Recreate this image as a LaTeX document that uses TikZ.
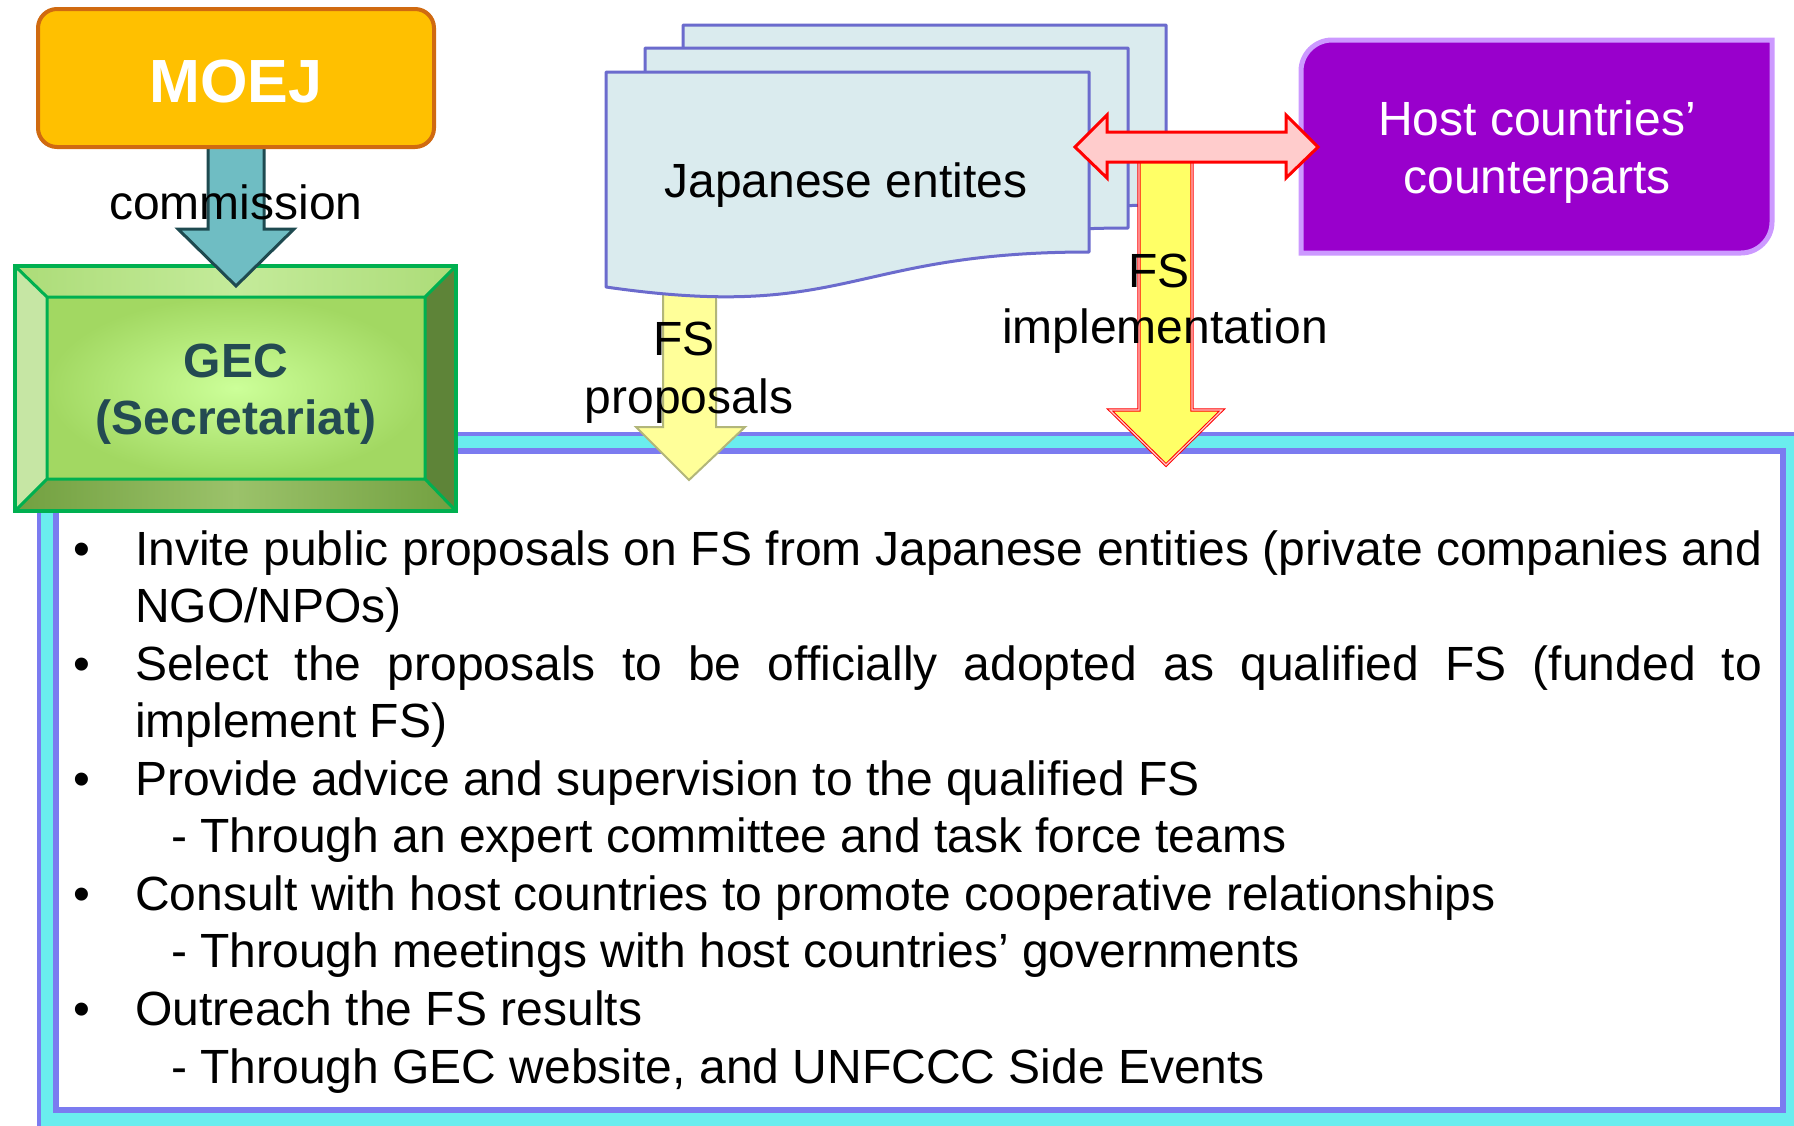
\documentclass[tikz,border=0pt]{standalone}
\usepackage{fontspec}
\setmainfont{Liberation Sans}
\definecolor{framepurple}{HTML}{7B7BF0}
\definecolor{framecyan}{HTML}{6AEDEE}
\definecolor{docfill}{HTML}{DAEBEE}
\definecolor{docdraw}{HTML}{6B6BCD}
\definecolor{implfill}{HTML}{FFFF66}
\definecolor{impldouble}{HTML}{FFD0D0}
\definecolor{propfill}{HTML}{FFFF99}
\definecolor{propdraw}{HTML}{B2B67A}
\definecolor{redfill}{HTML}{FFCCCC}
\definecolor{hostfill}{HTML}{9900CC}
\definecolor{hostdraw}{HTML}{CC99FF}
\definecolor{moejfill}{HTML}{FFC000}
\definecolor{moejdraw}{HTML}{D06A10}
\definecolor{commfill}{HTML}{6FBDC3}
\definecolor{commdraw}{HTML}{1E4A50}
\definecolor{gecgreen}{HTML}{00B050}
\definecolor{gecin}{HTML}{CCFF99}
\definecolor{gecout}{HTML}{A2D862}
\definecolor{bevtopmid}{HTML}{C4EB9A}
\definecolor{bevtopend}{HTML}{ACDC78}
\definecolor{bevleft}{HTML}{C6E6A4}
\definecolor{bevright}{HTML}{5E8438}
\definecolor{bevbotmid}{HTML}{9BC26A}
\definecolor{bevbotend}{HTML}{72A040}
\definecolor{gectext}{HTML}{234A52}
\begin{document}
\begin{tikzpicture}[x=1pt,y=-1pt,
  lbl/.style={font=\fontsize{48}{57.6}\selectfont, inner sep=0pt, anchor=base},
  item/.style={font=\fontsize{48}{57.6}\selectfont, inner sep=0pt, anchor=base west},
  docshape/.style={fill=docfill, draw=docdraw, line width=3pt, line join=round},
  blockarrow/.style={line join=miter}]
\useasboundingbox (0,0) rectangle (1794,1125);
\fill[white] (0,0) rectangle (1794,1125);

% main frame
\draw[fill=framecyan, draw=framepurple, line width=4pt] (39,434) rectangle (1840,1160);
\draw[fill=white, draw=framepurple, line width=6pt] (56,451) rectangle (1783,1110);

% GEC box
\shade[inner color=gecin, outer color=gecout] (47,297) rectangle (425,479);
\shade[left color=bevtopend, right color=bevtopend, middle color=bevtopmid] (15,266) -- (456,266) -- (425,297) -- (47,297) -- cycle;
\fill[bevleft] (15,266) -- (47,297) -- (47,479) -- (15,511) -- cycle;
\fill[bevright] (456,266) -- (456,511) -- (425,479) -- (425,297) -- cycle;
\shade[left color=bevbotend, right color=bevbotend, middle color=bevbotmid] (15,511) -- (456,511) -- (425,479) -- (47,479) -- cycle;
\draw[gecgreen, line width=3pt] (47,297) rectangle (425,479) (15,266) -- (47,297) (456,266) -- (425,297) (15,511) -- (47,479) (456,511) -- (425,479);
\draw[gecgreen, line width=4pt] (15,266) rectangle (456,511);
\node[font=\fontsize{48}{57.6}\bfseries, text=gectext, inner sep=0pt, anchor=base] (gec1) at (236,377) {GEC};
\node[font=\fontsize{48}{57.6}\bfseries, text=gectext, inner sep=0pt, anchor=base] (gec2) at (236,434) {(Secretariat)};

% commission arrow
\draw[blockarrow, fill=commfill, draw=commdraw, line width=3pt] (208,140) -- (264,140) -- (264,229) -- (294,229) -- (236,286) -- (178,229) -- (208,229) -- cycle;

% MOEJ
\draw[fill=moejfill, draw=moejdraw, line width=4pt, rounded corners=19pt] (38,9) rectangle (434,147);
\node[font=\fontsize{61}{70}\bfseries, text=white, inner sep=0pt, anchor=base] (moej) at (236,102) {MOEJ};
\node[lbl] (comm) at (236,219) {commission};

% FS proposals arrow
\draw[blockarrow, fill=propfill, draw=propdraw, line width=2pt] (663,270) -- (716,270) -- (716,427) -- (745,427) -- (689,480) -- (636,427) -- (663,427) -- cycle;

% Japanese entities documents
\foreach \dx/\dy in {77/-47, 39/-24, 0/0}
  \draw[docshape, shift={(\dx,\dy)}] (606,72) -- (1089,72) -- (1089,252) .. controls (848,252) and (848,322) .. (606,287) -- cycle;
\node[lbl] (jpn) at (846,197) {Japanese entites};

% FS implementation arrow
\draw[blockarrow, fill=implfill, draw=red, line width=1pt, double=impldouble, double distance=1.2pt] (1139,150) -- (1192,150) -- (1192,410) -- (1222,410) -- (1166,465) -- (1110,410) -- (1139,410) -- cycle;

% Host countries box
\draw[fill=hostfill, draw=hostdraw, line width=5pt] (1301,253) -- (1301,71) .. controls (1301,54) and (1315,40) .. (1332,40) -- (1772,40) -- (1772,222) .. controls (1772,239) and (1758,253) .. (1741,253) -- cycle;
\node[lbl, text=white] (host1) at (1537,135) {Host countries’};
\node[lbl, text=white] (host2) at (1537,193) {counterparts};

% red double arrow
\draw[blockarrow, fill=redfill, draw=red, line width=3pt] (1075,147) -- (1107,115) -- (1107,132) -- (1286,132) -- (1286,115) -- (1318,147) -- (1286,178) -- (1286,162) -- (1107,162) -- (1107,178) -- cycle;

% arrow labels
\node[lbl] (fsp1) at (684,355) {FS};
\node[lbl] (fsp2) at (689,413) {proposals};
\node[lbl] (fsi1) at (1159,287) {FS};
\node[lbl] (fsi2) at (1165,343) {implementation};

% bullet list
\node[item] (b1) at (73,565) {•};
\node[item] (t1) at (135,565) {\makebox[1627pt][s]{Invite public proposals on FS from Japanese entities (private companies and}};
\node[item] (t2) at (135,622.6) {NGO/NPOs)};
\node[item] (b2) at (73,680.1) {•};
\node[item] (t3) at (135,680.1) {\makebox[1627pt][s]{Select the proposals to be officially adopted as qualified FS (funded to}};
\node[item] (t4) at (135,737.7) {implement FS)};
\node[item] (b3) at (73,795.2) {•};
\node[item] (t5) at (135,795.2) {Provide advice and supervision to the qualified FS};
\node[item] (t6) at (171,852.8) {- Through an expert committee and task force teams};
\node[item] (b4) at (73,910.3) {•};
\node[item] (t7) at (135,910.3) {Consult with host countries to promote cooperative relationships};
\node[item] (t8) at (171,967.9) {- Through meetings with host countries’ governments};
\node[item] (b5) at (73,1025.4) {•};
\node[item] (t9) at (135,1025.4) {Outreach the FS results};
\node[item] (t10) at (171,1083) {- Through GEC website, and UNFCCC Side Events};
\end{tikzpicture}
\end{document}
